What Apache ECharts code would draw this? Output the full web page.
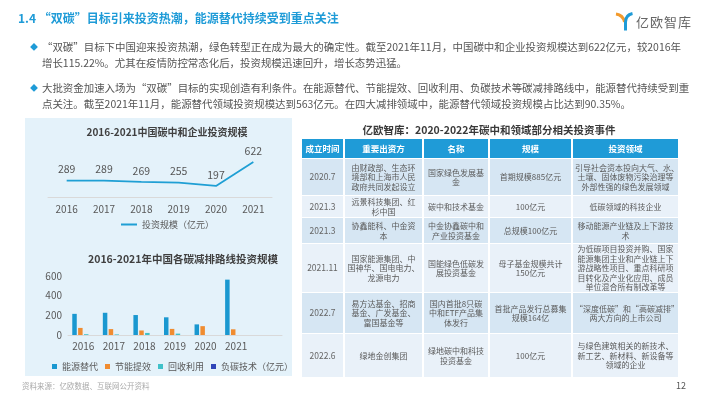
<!DOCTYPE html>
<html>
<head>
<meta charset="utf-8">
<script src="https://cdn.jsdelivr.net/npm/echarts@6/dist/echarts.min.js"></script>
<style>
  body { margin: 0; width: 710px; height: 399px; position: relative; overflow: hidden; background: #fff;
    font-family: "Noto Sans CJK SC", "Noto Sans", sans-serif; color: #555; }
  .abs { position: absolute; }
  #panel { left: 25px; top: 118px; width: 267px; height: 258px; background: #e4f2fa; z-index: 0; }
  #chart { left: 0; top: 0; width: 710px; height: 399px; z-index: 1; }
  .over { z-index: 2; }
  #title { left: 18px; top: 9px; font-size: 12px; font-weight: bold; color: #1e9bd7; white-space: nowrap; }
  #logo-text { left: 636px; top: 12px; font-size: 13px; color: #666; letter-spacing: 1px; }
  .bullet { left: 30px; font-size: 10.45px; line-height: 16px; color: #555; white-space: nowrap; padding-left: 12px; }
  .bullet:before { content: "◆"; position: absolute; left: 0; top: 0; color: #1e9bd7; font-size: 8px; }
  #tbl-title { left: 300px; width: 378px; top: 122px; text-align: center; font-size: 10.5px; font-weight: bold; color: #3a3a3a; }
  table { position: absolute; left: 300px; top: 138px; width: 378px; border-collapse: collapse; table-layout: fixed; z-index: 2; }
  td, th { border: 1px solid #fff; border-left-width: 2px; border-right-width: 2px; padding: 0 2px; text-align: center;
    font-size: 8px; line-height: 9.4px; color: #5a5a5a; white-space: nowrap; font-weight: normal; }
  th { background: #1f9bd7; color: #fff; font-weight: bold; font-size: 8.5px; }
  tr.a td { background: #d6e6f3; }
  tr.b td { background: #e9f1f9; }
  td.t { font-size: 8.5px; color: #666; }
  #source { left: 22px; top: 380px; font-size: 7.5px; color: #aaa; }
  #page { left: 676px; top: 379px; font-size: 9px; color: #555; }
</style>
</head>
<body>
<div id="panel" class="abs"></div>
<div id="chart" class="abs"></div>

<div id="title" class="abs over">1.4 “双碳”目标引来投资热潮，能源替代持续受到重点关注</div>
<svg class="abs over" style="left:614px;top:12px" width="20" height="20" viewBox="0 0 20 20">
  <path d="M2 2 Q9 3 10.5 10" stroke="#f39a2b" stroke-width="3" fill="none"/>
  <path d="M18.5 1.5 Q11.5 3 11.5 10 L11.5 18.5" stroke="#1e9bd7" stroke-width="3" fill="none"/>
</svg>
<div id="logo-text" class="abs over">亿欧智库</div>

<div class="abs over bullet" style="top:39px">“双碳”目标下中国迎来投资热潮，绿色转型正在成为最大的确定性。截至2021年11月，中国碳中和企业投资规模达到622亿元，较2016年<br>增长115.22%。尤其在疫情防控常态化后，投资规模迅速回升，增长态势迅猛。</div>
<div class="abs over bullet" style="top:80px">大批资金加速入场为“双碳”目标的实现创造有利条件。在能源替代、节能提效、回收利用、负碳技术等碳减排路线中，能源替代持续受到重<br>点关注。截至2021年11月，能源替代领域投资规模达到563亿元。在四大减排领域中，能源替代领域投资规模占比达到90.35%。</div>

<div id="tbl-title" class="abs over">亿欧智库：2020-2022年碳中和领域部分相关投资事件</div>
<table>
  <colgroup><col style="width:43px"><col style="width:79px"><col style="width:66px"><col style="width:83px"><col style="width:107px"></colgroup>
  <tr style="height:20px"><th>成立时间</th><th>重要出资方</th><th>名称</th><th>规模</th><th>投资领域</th></tr>
  <tr class="a" style="height:37px"><td class="t">2020.7</td><td>由财政部、生态环<br>境部和上海市人民<br>政府共同发起设立</td><td>国家绿色发展基<br>金</td><td>首期规模885亿元</td><td>引导社会资本投向大气、水、<br>土壤、固体废物污染治理等<br>外部性强的绿色发展领域</td></tr>
  <tr class="b" style="height:22px"><td class="t">2021.3</td><td>远景科技集团、红<br>杉中国</td><td>碳中和技术基金</td><td>100亿元</td><td>低碳领域的科技企业</td></tr>
  <tr class="a" style="height:26px"><td class="t">2021.3</td><td>协鑫能科、中金资<br>本</td><td>中金协鑫碳中和<br>产业投资基金</td><td>总规模100亿元</td><td>移动能源产业链及上下游技<br>术</td></tr>
  <tr class="b" style="height:49px"><td class="t">2021.11</td><td>国家能源集团、中<br>国神华、国电电力、<br>龙源电力</td><td>国能绿色低碳发<br>展投资基金</td><td>母子基金规模共计<br>150亿元</td><td>为低碳项目投资并购、国家<br>能源集团主业和产业链上下<br>游战略性项目、重点科研项<br>目转化及产业化应用、成员<br>单位混合所有制改革等</td></tr>
  <tr class="a" style="height:41px"><td class="t">2022.7</td><td>易方达基金、招商<br>基金、广发基金、<br>富国基金等</td><td>国内首批8只碳<br>中和ETF产品集<br>体发行</td><td>首批产品发行总募集<br>规模164亿</td><td>“深度低碳”和“高碳减排”<br>两大方向的上市公司</td></tr>
  <tr class="b" style="height:44px"><td class="t">2022.6</td><td>绿地金创集团</td><td>绿地碳中和科技<br>投资基金</td><td>100亿元</td><td>与绿色建筑相关的新技术、<br>新工艺、新材料、新设备等<br>领域的企业</td></tr>
</table>

<div id="source" class="abs over">资料来源：亿欧数据、互联网公开资料</div>
<div id="page" class="abs over">12</div>

<script>
// 碳中和企业投资规模（亿元）
const lineYears = ['2016', '2017', '2018', '2019', '2020', '2021'];
const lineValues = [289, 289, 269, 255, 197, 622];
// 各碳减排路线投资规模（亿元）
const barYears = ['2016', '2017', '2018', '2019', '2020', '2021'];
const energyValues = [215, 226, 203, 180, 108, 563];
const efficiencyValues = [72, 60, 46, 62, 90, 58];
const recycleValues = [8, 6, 21, 14, 0, 0];
const negativeValues = [0, 0, 0, 0, 0, 0];
const barNames = ['能源替代', '节能提效', '回收利用', '负碳技术（亿元）'];
const barColors = ['#1a98d0', '#f08c30', '#3fc1c9', '#2f45b8'];

const font = '"Noto Sans CJK SC", sans-serif';
const myChart = echarts.init(document.getElementById('chart'));

// 柱状图数据
let barSeries = [];
[energyValues, efficiencyValues, recycleValues, negativeValues].forEach((vals, i) => {
  barSeries.push({
    name: barNames[i],
    type: 'bar',
    xAxisIndex: 1,
    yAxisIndex: 1,
    data: vals,
    barWidth: 4.5,
    barGap: '30%',
    itemStyle: { color: barColors[i] }
  });
});

let option = {
  textStyle: { fontFamily: font },
  animation: false,
  title: [
    {
      text: '2016-2021中国碳中和企业投资规模',
      left: 162, top: 122, textAlign: 'center',
      textStyle: { fontSize: 10, fontWeight: 'bold', color: '#404040', fontFamily: font }
    },
    {
      text: '2016-2021年中国各碳减排路线投资规模',
      left: 178, top: 249, textAlign: 'center',
      textStyle: { fontSize: 10.5, fontWeight: 'bold', color: '#404040', fontFamily: font }
    }
  ],
  legend: [
    {
      data: ['投资规模（亿元）'],
      left: 116, top: 215,
      icon: 'rect', itemWidth: 16, itemHeight: 2,
      textStyle: { fontSize: 9, color: '#595959', fontFamily: font }
    },
    {
      data: barNames,
      left: 47, top: 357,
      icon: 'rect', itemWidth: 5, itemHeight: 5, itemGap: 7,
      textStyle: { fontSize: 9, color: '#595959', fontFamily: font }
    }
  ],
  grid: [
    { left: 48, right: 438, top: 157.5, bottom: 202 },
    { left: 68, right: 428, top: 276, bottom: 64 }
  ],
  xAxis: [
    {
      gridIndex: 0, type: 'category', data: lineYears,
      axisLine: { lineStyle: { color: '#d9d9d9' } },
      axisTick: { show: false },
      axisLabel: { fontSize: 10, color: '#595959', margin: 7 }
    },
    {
      gridIndex: 1, type: 'category', data: barYears.concat(['']),
      axisLine: { lineStyle: { color: '#d9d9d9' } },
      axisTick: { show: false },
      axisLabel: { fontSize: 10, color: '#595959', margin: 6 }
    }
  ],
  yAxis: [
    { gridIndex: 0, type: 'value', min: 0, max: 700, show: false },
    {
      gridIndex: 1, type: 'value', min: 0, max: 600, interval: 200,
      axisLine: { show: false }, axisTick: { show: false },
      splitLine: { show: false },
      axisLabel: { fontSize: 10, color: '#595959', margin: 6 }
    }
  ],
  series: [
    {
      name: '投资规模（亿元）',
      type: 'line',
      data: lineValues,
      // 标签挂在拐点上，拐点设得很小
      symbol: 'circle',
      symbolSize: 0.1,
      showSymbol: true,
      lineStyle: { width: 1.8, color: '#1f9fd4' },
      itemStyle: { color: '#1f9fd4' },
      label: { show: true, position: 'top', distance: 6, fontSize: 10.5, color: '#555' }
    }
  ].concat(barSeries)
};
option && myChart.setOption(option);
</script>
</body>
</html>
